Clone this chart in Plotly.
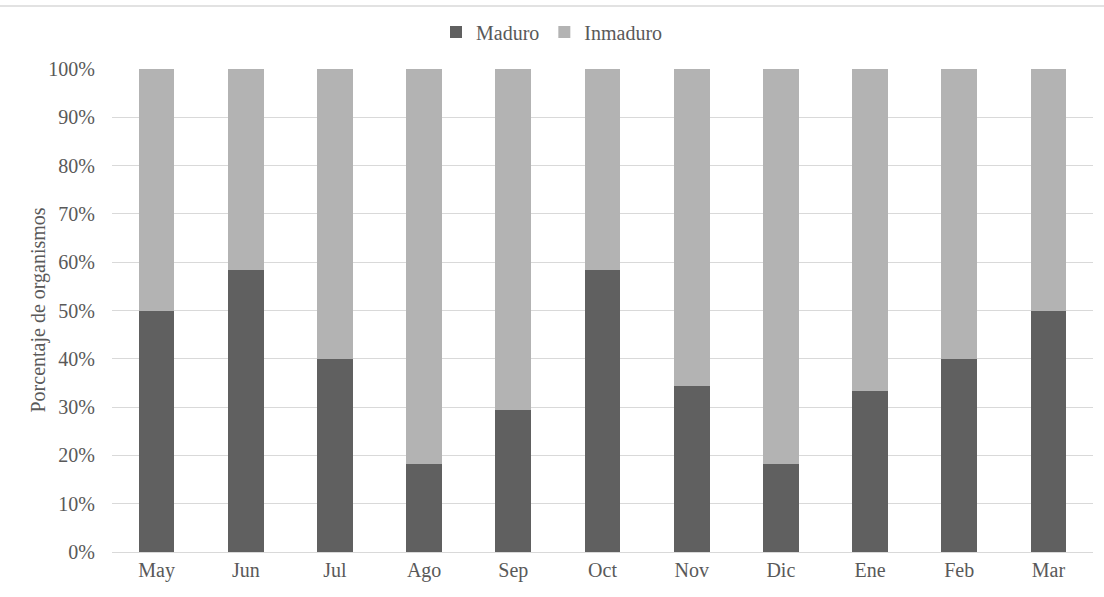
import plotly.graph_objects as go

meses = ["May", "Jun", "Jul", "Ago", "Sep", "Oct", "Nov", "Dic", "Ene", "Feb", "Mar"]
maduro = [50.0, 58.3, 40.0, 18.2, 29.4, 58.3, 34.4, 18.2, 33.3, 40.0, 50.0]
inmaduro = [50.0, 41.7, 60.0, 81.8, 70.6, 41.7, 65.6, 81.8, 66.7, 60.0, 50.0]
y_ticks = [0, 10, 20, 30, 40, 50, 60, 70, 80, 90, 100]
y_tick_text = [f"{v}%" for v in y_ticks]

FONT = "Times New Roman"
TXT = "#595959"
FS = 20

fig = go.Figure()
fig.add_trace(go.Bar(x=meses, y=maduro, name="Maduro",
                     marker=dict(color="#606060", line=dict(width=0))))
fig.add_trace(go.Bar(x=meses, y=inmaduro, name="Inmaduro",
                     marker=dict(color="#b3b3b3", line=dict(width=0))))

W, H = 1104, 597
ml, mr, mt, mb = 112, 11, 69, 45
pw, ph = W - ml - mr, H - mt - mb

fig.update_layout(
    width=W, height=H,
    barmode="stack", bargap=0.6,
    plot_bgcolor="white", paper_bgcolor="white",
    margin=dict(l=ml, r=mr, t=mt, b=mb, autoexpand=False),
    font=dict(family=FONT, size=FS, color=TXT),
    legend=dict(orientation="h", xref="container", yref="container",
                x=0.5, xanchor="center", y=1 - 32 / H, yanchor="middle",
                font=dict(family=FONT, size=FS, color=TXT),
                itemwidth=30, traceorder="normal", tracegroupgap=0),
    xaxis=dict(showgrid=False, showline=False, ticks="",
               tickfont=dict(family=FONT, size=FS, color=TXT),
               ticklabelstandoff=4),
    yaxis=dict(range=[0, 100], tickvals=y_ticks, ticktext=y_tick_text,
               showgrid=True, gridcolor="#d9d9d9", gridwidth=1,
               zeroline=True, zerolinecolor="#d9d9d9", zerolinewidth=1,
               showline=False, ticks="",
               tickfont=dict(family=FONT, size=FS, color=TXT),
               ticklabelstandoff=16),
    annotations=[dict(text="Porcentaje de organismos", textangle=-90,
                      xref="paper", yref="paper",
                      x=(38 - ml) / pw, y=0.5,
                      xanchor="center", yanchor="middle", showarrow=False,
                      font=dict(family=FONT, size=FS, color=TXT))],
    shapes=[dict(type="line", xref="paper", yref="paper",
                 x0=-ml / pw, x1=(W - ml) / pw,
                 y0=(H - mb - 6) / ph, y1=(H - mb - 6) / ph,
                 line=dict(color="#d9d9d9", width=1.5))],
)

fig.write_html("out.html")
